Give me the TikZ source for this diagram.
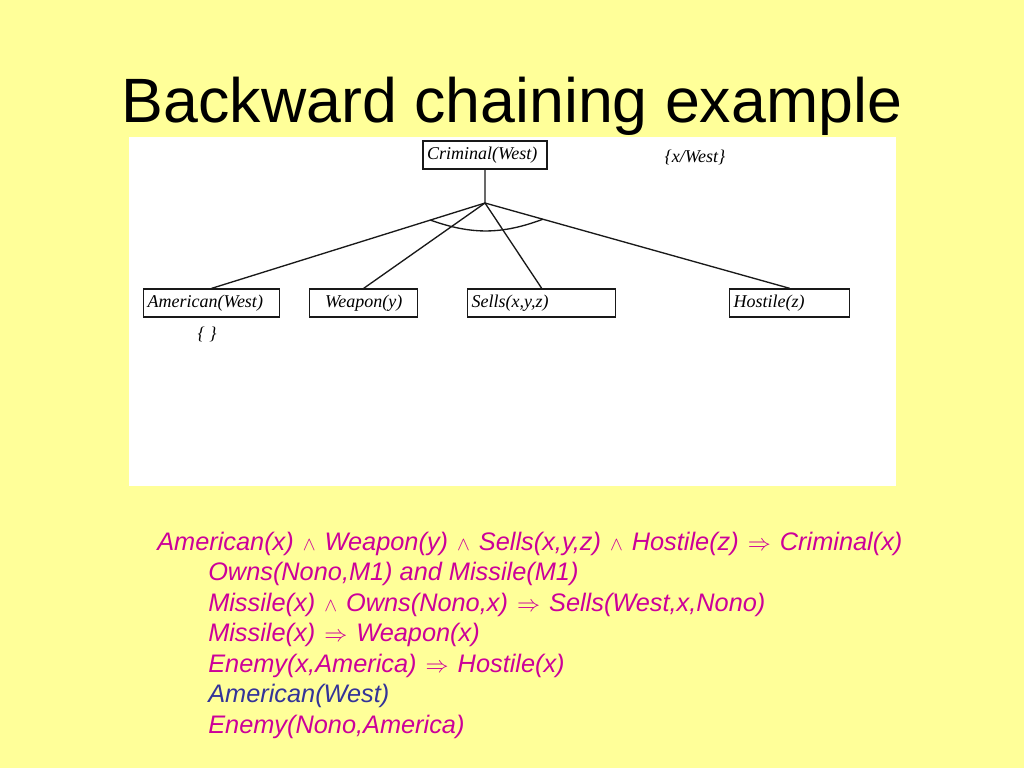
\documentclass[tikz,border=0pt]{standalone}
\usepackage{fontspec}
\usetikzlibrary{calc}
\setmainfont{Liberation Serif}
\setsansfont{Liberation Sans}
\definecolor{slideyellow}{HTML}{FFFF99}
\definecolor{rulepink}{HTML}{CC0099}
\definecolor{factblue}{HTML}{333399}
\newcommand{\andsym}{\hspace{1.5pt}$\scriptstyle\wedge$\hspace{1.5pt}}
\newcommand{\impsym}{\hspace{1.5pt}$\Rightarrow$\hspace{1.5pt}}
\begin{document}
\begin{tikzpicture}[scale=.75, x=1pt, y=-1pt]

\tikzset{goal/.style={rectangle,draw,black!90,text=black,line width=1pt,minimum height=21pt,inner xsep=3pt,inner ysep=0pt,align=left,font=\fontsize{13.5}{15}\selectfont\itshape},}
\tikzset{subst/.style={inner sep=0pt,text=black,font=\fontsize{13.5}{15}\selectfont\itshape},}
\tikzset{head/.style={inner sep=0pt,text=black,font=\sffamily\fontsize{47}{55}\selectfont},}
\tikzset{kb/.style={inner sep=0pt,anchor=base west,text=rulepink,font=\sffamily\itshape\fontsize{19}{22}\selectfont},}
\tikzset{link/.style={line width=1pt,black!90},}

% slide and white panel
\fill[slideyellow] (0,0) rectangle (1024,768);
\fill[white] (129,137) rectangle (896,486);
\useasboundingbox (0,0) rectangle (1024,768);

\draw (512,122) node [head,anchor=base] (title) {Backward chaining example};

% proof tree
\draw (485,155) node [goal,text width=87pt] (crim) {Criminal(West)};
\draw (695,157) node [subst] (theta) {\{x/West\}};
\draw (143,303) node [goal,anchor=west,text width=96pt] (amer) {American(West)};
\draw (309,303) node [goal,anchor=west,text width=75pt,align=center] (weap) {Weapon(y)};
\draw (467,303) node [goal,anchor=west,text width=105pt] (sells) {Sells(x,y,z)};
\draw (729,303) node [goal,anchor=west,text width=84pt] (host) {Hostile(z)};
\draw (207,334) node [subst] (empty) {\{ \}};

\coordinate (fork) at (485,203);
\draw[link] (crim) -- (fork);
\draw[link] (fork) -- (amer.north);
\draw[link] (fork) -- (weap.north);
\draw[link] (fork) -- (sells.north);
\draw[link] (fork) -- (host.north);
\draw[link] ($(fork)!0.2!(amer.north)$) to[bend right=20] ($(fork)!0.19!(host.north)$);

% knowledge base
\draw (157,550) node [kb] (r1) {American(x) \andsym{} Weapon(y) \andsym{} Sells(x,y,z) \andsym{} Hostile(z) \impsym{} Criminal(x)};
\draw (208,580) node [kb] (r2) {Owns(Nono,M1) and Missile(M1)};
\draw (208,611) node [kb] (r3) {Missile(x) \andsym{} Owns(Nono,x) \impsym{} Sells(West,x,Nono)};
\draw (208,641) node [kb] (r4) {Missile(x) \impsym{} Weapon(x)};
\draw (208,672) node [kb] (r5) {Enemy(x,America) \impsym{} Hostile(x)};
\draw (208,702) node [kb,text=factblue] (r6) {American(West)};
\draw (208,733) node [kb] (r7) {Enemy(Nono,America)};

\end{tikzpicture}
\end{document}
